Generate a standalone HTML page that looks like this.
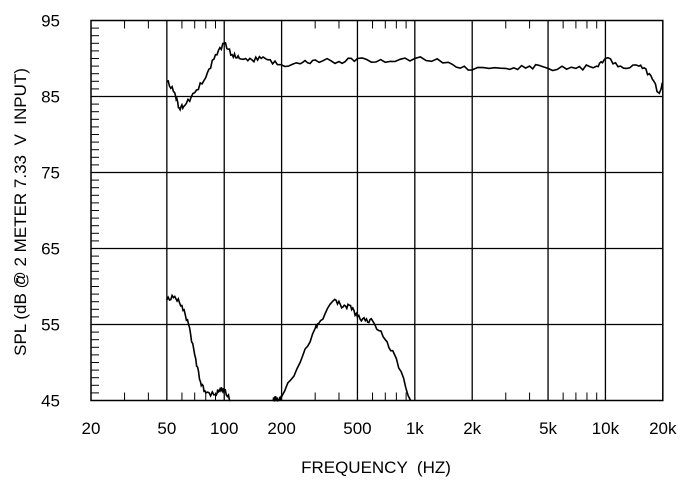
<!DOCTYPE html>
<html><head><style>body{margin:0;background:#fff}svg{display:block}text{font-family:"Liberation Sans",Arial,sans-serif;fill:#000;white-space:pre}</style></head>
<body>
<svg id="s" width="690" height="490" xmlns="http://www.w3.org/2000/svg"></svg>
<script>
const L=91,R=662.8,T=20.5,B=400.5,D=190.6;
const X=f=>L+Math.log10(f/20)*D, Y=v=>T+(95-v)*7.6;
let h='';
h+=`<rect x="${L}" y="${T}" width="${R-L}" height="${B-T}" fill="none" stroke="#000" stroke-width="1.5"/>`;
[55,65,75,85].forEach(v=>h+=`<line x1="${L}" x2="${R}" y1="${Y(v)}" y2="${Y(v)}" stroke="#000" stroke-width="1.3"/>`);
[50,100,200,500,1000,2000,5000,10000].forEach(f=>h+=`<line x1="${X(f)}" x2="${X(f)}" y1="${T}" y2="${B}" stroke="#000" stroke-width="1.3"/>`);
for(let v=46;v<95;v++) if(v%10!=5) h+=`<line x1="${L}" x2="${L+8}" y1="${Y(v)}" y2="${Y(v)}" stroke="#000"/>`;
for(const d of [10,100,1000,10000]) for(let m=2;m<10;m++){const f=d*m; if(f<=20||f>=20000)continue; if([50,100,200,500,1000,2000,5000,10000].includes(f))continue;
 h+=`<line x1="${X(f)}" x2="${X(f)}" y1="${T}" y2="${T+8}" stroke="#000"/><line x1="${X(f)}" x2="${X(f)}" y1="${B}" y2="${B-8}" stroke="#000"/>`;}
[[95,'95'],[85,'85'],[75,'75'],[65,'65'],[55,'55'],[45,'45']].forEach(([v,t])=>h+=`<text x="60" y="${Y(v)+6}" font-size="17" text-anchor="end">${t}</text>`);
[[20,'20'],[50,'50'],[100,'100'],[200,'200'],[500,'500'],[1000,'1k'],[2000,'2k'],[5000,'5k'],[10000,'10k'],[20000,'20k']].forEach(([f,t])=>h+=`<text x="${X(f)}" y="434" font-size="17" text-anchor="middle">${t}</text>`);
h+=`<text x="376" y="473" font-size="17" text-anchor="middle" xml:space="preserve">FREQUENCY  (HZ)</text>`;
h+=`<text transform="translate(26,212) rotate(-90)" font-size="17" text-anchor="middle" xml:space="preserve">SPL (dB @ 2 METER 7.33  V  INPUT)</text>`;
h+=`<line x1="17" x2="17" y1="278" y2="283" stroke="#000" stroke-width="1.5"/>`;
const up=[[50,87],[55,85.5],[58,83.5],[62,83.8],[70,85.5],[80,87.5],[90,90.5],[100,92],[110,90.5],[120,90],[140,89.8],[160,90.2],[190,89.2],[250,89.3],[300,89.8],[400,89.6],[500,90],[700,89.5],[1000,90],[1500,89.5],[2000,88.5],[3000,88.7],[4000,89],[5000,88.7],[7000,88.7],[9000,89],[10000,90],[12000,89],[15000,89],[17000,88],[19000,85.5],[20000,86.8]];
const lo1=[[50,58.2],[55,58.7],[60,57.5],[65,55],[70,51],[75,47.5],[80,46],[90,45.8],[95,46.5],[100,46.3],[108,45]];
const lo2=[[180,45],[185,45.3],[192,45],[200,45.5],[250,50],[300,54.5],[320,55.5],[380,58.3],[420,57.3],[460,57.5],[500,56],[550,55.5],[600,55.5],[700,53],[800,50.5],[950,45]];
function path(p,j){let d='';for(let i=0;i<p.length-1;i++){const[f0,v0]=p[i],[f1,v1]=p[i+1];for(let k=0;k<6;k++){const t=k/6;const f=f0*Math.pow(f1/f0,t);let v=v0+(v1-v0)*t;if(j&&k>0){v+=Math.sin(f*0.37+k*1.7)*0.3;}
d+=(d?'L':'M')+X(f).toFixed(1)+','+Math.min(Y(v),B).toFixed(1);}}const q=p[p.length-1];d+='L'+X(q[0]).toFixed(1)+','+Math.min(Y(q[1]),B).toFixed(1);return `<path d="${d}" fill="none" stroke="#000" stroke-width="1.6"/>`;}
h+=path(up,1)+path(lo1,1)+path(lo2,1);
document.getElementById('s').innerHTML=h;
</script>
</body></html>
